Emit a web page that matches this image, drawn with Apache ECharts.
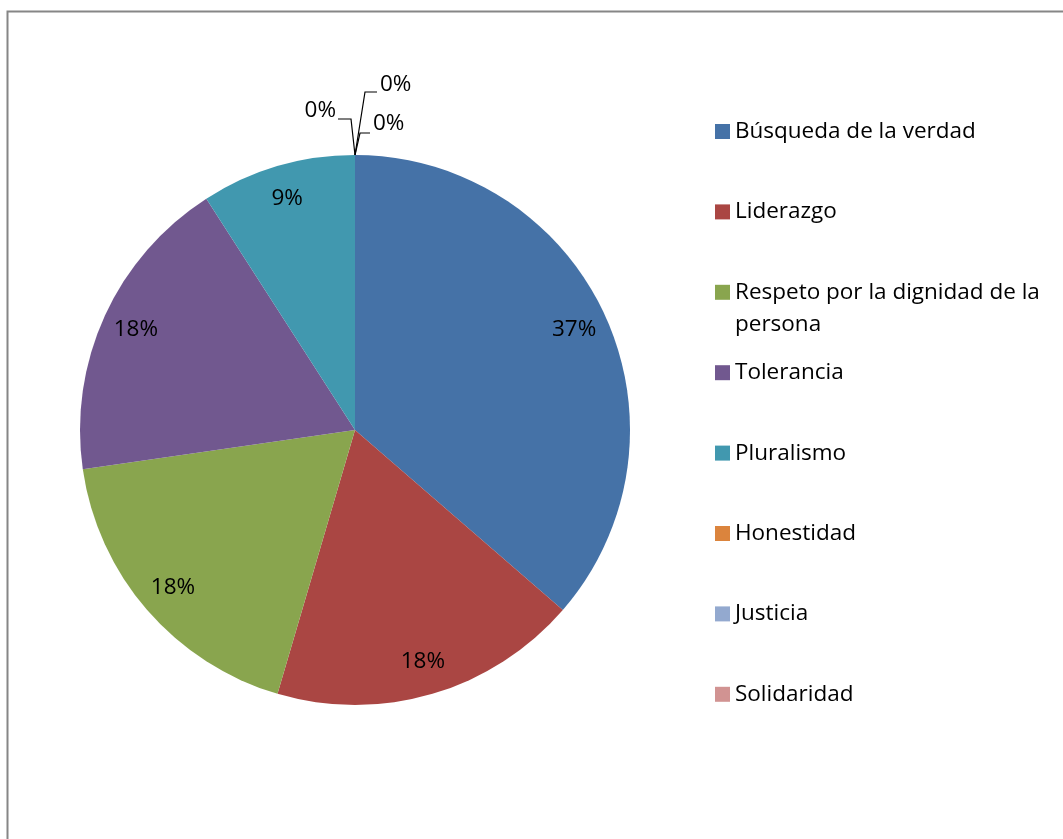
<!DOCTYPE html>
<html>
<head>
<meta charset="utf-8">
<script src="https://cdn.jsdelivr.net/npm/echarts@6/dist/echarts.min.js"></script>
<style>
html,body{margin:0;padding:0;background:#fff;}
#chart{width:1063px;height:839px;}
</style>
</head>
<body>
<div id="chart"></div>
<script>
// ---- data ----
const categories = ['Búsqueda de la verdad', 'Liderazgo', 'Respeto por la dignidad de la persona', 'Tolerancia', 'Pluralismo', 'Honestidad', 'Justicia', 'Solidaridad'];
const values = [4, 2, 2, 2, 1, 0, 0, 0];               // slice sizes
const percentLabels = ['37%', '18%', '18%', '18%', '9%', '0%', '0%', '0%']; // labels as printed
const colors = ['#4572A7', '#AA4643', '#89A54E', '#71588F', '#4198AF', '#DB843D', '#93A9CF', '#D19392'];

// ---- layout / style ----
const FONT = 'Open Sans';
const FS = 22.5;
const PIE_CX = 355, PIE_CY = 430, PIE_R = 275;
const LEG_LEFT = 715, LEG_FIRST = 131.5, LEG_STEP = 80.4;
// zero-label leader offsets relative to the top of the pie (style only)
const zeroLabelStyle = {
  5: {line: [[-4, -36], [-17, -36]], x: -19, y: -44, align: 'right'},
  6: {line: [[10, -63], [22, -63]], x: 25, y: -70, align: 'left'},
  7: {line: [[5, -22], [15, -22]], x: 18, y: -31, align: 'left'}
};

const chart = echarts.init(document.getElementById('chart'), null, {renderer: 'canvas'});

const mainData = categories.map((n, i) => ({
  name: n, value: values[i],
  itemStyle: {color: colors[i]},
  label: {show: values[i] === 0},
  labelLine: {show: values[i] === 0}
}));
const innerLabelData = categories.map((n, i) => ({
  name: n, value: values[i],
  label: {show: values[i] > 0}
}));
const fmt = p => percentLabels[p.dataIndex];

const legends = categories.map((n, i) => {
  const wrap = n === 'Respeto por la dignidad de la persona';
  const center = LEG_FIRST + i * LEG_STEP;
  return {
    data: [n],
    orient: 'vertical',
    left: LEG_LEFT,
    top: center - (wrap ? 48 : 16),
    padding: 0,
    itemWidth: 15, itemHeight: 15,
    icon: 'rect',
    selectedMode: false,
    formatter: wrap ? '\nRespeto por la dignidad de la\npersona' : '{name}',
    textStyle: {fontFamily: FONT, fontSize: FS, color: '#000', lineHeight: 32}
  };
});

chart.setOption({
  backgroundColor: '#fff',
  animation: false,
  legend: legends,
  graphic: [{
    type: 'rect', silent: true,
    shape: {x: 7.5, y: 11.5, width: 1100, height: 900},
    style: {fill: 'none', stroke: '#868686', lineWidth: 2}
  }],
  series: [{
    type: 'pie',
    center: [PIE_CX, PIE_CY],
    radius: PIE_R,
    startAngle: 90,
    clockwise: true,
    avoidLabelOverlap: false,
    data: mainData,
    itemStyle: {borderWidth: 0},
    emphasis: {disabled: true},
    label: {position: 'outside', formatter: fmt, fontFamily: FONT, fontSize: FS, color: '#000'},
    labelLine: {lineStyle: {color: '#000', width: 1.2}, length: 20, length2: 12},
    labelLayout: function (p) {
      const s = zeroLabelStyle[p.dataIndex];
      if (!s) return {};
      const ax = PIE_CX, ay = PIE_CY - PIE_R;
      return {
        x: ax + s.x, y: ay + s.y,
        align: s.align, verticalAlign: 'middle',
        labelLinePoints: [[ax, ay], [ax + s.line[0][0], ay + s.line[0][1]], [ax + s.line[1][0], ay + s.line[1][1]]]
      };
    }
  }, {
    type: 'pie',
    silent: true,
    center: [PIE_CX, PIE_CY],
    radius: [PIE_R * 0.73, PIE_R],
    startAngle: 90,
    clockwise: true,
    avoidLabelOverlap: false,
    data: innerLabelData,
    itemStyle: {color: 'rgba(0,0,0,0)', borderWidth: 0},
    emphasis: {disabled: true},
    labelLine: {show: false},
    label: {position: 'inside', formatter: fmt, fontFamily: FONT, fontSize: FS, color: '#000'}
  }]
});
</script>
</body>
</html>
